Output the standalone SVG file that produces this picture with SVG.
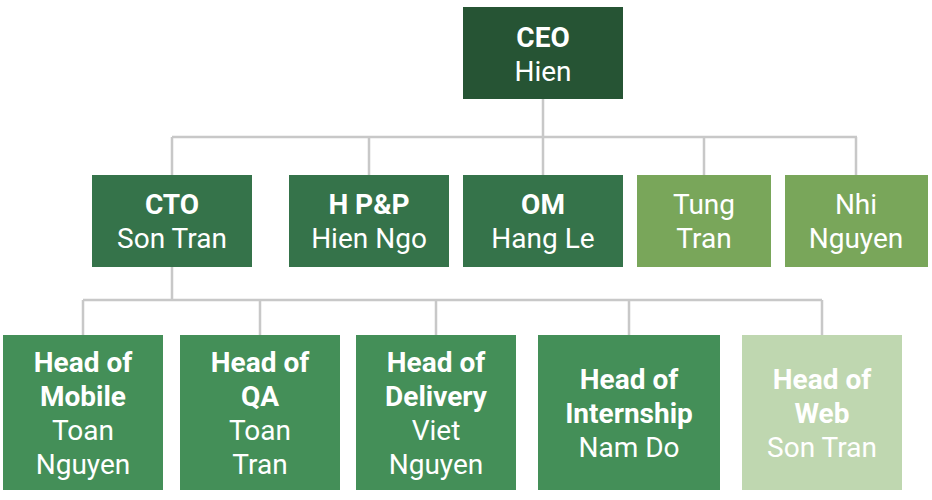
<svg xmlns="http://www.w3.org/2000/svg" width="932" height="500" viewBox="0 0 932 500">
<style>
.t{font-family:Roboto,"Liberation Sans",sans-serif;font-size:28px;fill:#ffffff;text-anchor:middle}
.b{font-weight:bold}
.c{fill:none;stroke:#c8c8c8;stroke-width:2.5}
.l0{fill:#265434}
.l1{fill:#35734a}
.l1b{fill:#79a65a}
.l2{fill:#448f58}
.l2b{fill:#bfd7b0}
</style>
<rect width="932" height="500" fill="#ffffff"/>
<g id="connectors">
<path class="c" d="M543 99V137M172 137H857M172 137V175M369 137V175M543 137V175M704 137V175M856 137V175"/>
<path class="c" d="M172 267V300M83 300H822M83 300V335M260 300V335M436 300V335M629 300V335M822 300V335"/>
</g>
<g id="ceo"><rect class="l0" x="463" y="7" width="160" height="92"/><text class="t" x="543"><tspan class="b" x="543" y="47">CEO</tspan><tspan x="543" y="81">Hien</tspan></text></g>
<g id="cto"><rect class="l1" x="92" y="175" width="160" height="92"/><text class="t"><tspan class="b" x="172" y="214">CTO</tspan><tspan x="172" y="248">Son Tran</tspan></text></g>
<g id="hpp"><rect class="l1" x="289" y="175" width="160" height="92"/><text class="t"><tspan class="b" x="369" y="214">H P&amp;P</tspan><tspan x="369" y="248">Hien Ngo</tspan></text></g>
<g id="om"><rect class="l1" x="463" y="175" width="160" height="92"/><text class="t"><tspan class="b" x="543" y="214">OM</tspan><tspan x="543" y="248">Hang Le</tspan></text></g>
<g id="tung"><rect class="l1b" x="637" y="175" width="134" height="92"/><text class="t"><tspan x="704" y="214">Tung</tspan><tspan x="704" y="248">Tran</tspan></text></g>
<g id="nhi"><rect class="l1b" x="785" y="175" width="143" height="92"/><text class="t"><tspan x="856" y="214">Nhi</tspan><tspan x="856" y="248">Nguyen</tspan></text></g>
<g id="mobile"><rect class="l2" x="3" y="335" width="160" height="155"/><text class="t"><tspan class="b" x="83" y="372">Head of</tspan><tspan class="b" x="83" y="406">Mobile</tspan><tspan x="83" y="440">Toan</tspan><tspan x="83" y="474">Nguyen</tspan></text></g>
<g id="qa"><rect class="l2" x="180" y="335" width="160" height="155"/><text class="t"><tspan class="b" x="260" y="372">Head of</tspan><tspan class="b" x="260" y="406">QA</tspan><tspan x="260" y="440">Toan</tspan><tspan x="260" y="474">Tran</tspan></text></g>
<g id="delivery"><rect class="l2" x="356" y="335" width="160" height="155"/><text class="t"><tspan class="b" x="436" y="372">Head of</tspan><tspan class="b" x="436" y="406">Delivery</tspan><tspan x="436" y="440">Viet</tspan><tspan x="436" y="474">Nguyen</tspan></text></g>
<g id="internship"><rect class="l2" x="538" y="335" width="182" height="155"/><text class="t"><tspan class="b" x="629" y="389">Head of</tspan><tspan class="b" x="629" y="423">Internship</tspan><tspan x="629" y="457">Nam Do</tspan></text></g>
<g id="web"><rect class="l2b" x="742" y="335" width="160" height="155"/><text class="t"><tspan class="b" x="822" y="389">Head of</tspan><tspan class="b" x="822" y="423">Web</tspan><tspan x="822" y="457">Son Tran</tspan></text></g>
</svg>
